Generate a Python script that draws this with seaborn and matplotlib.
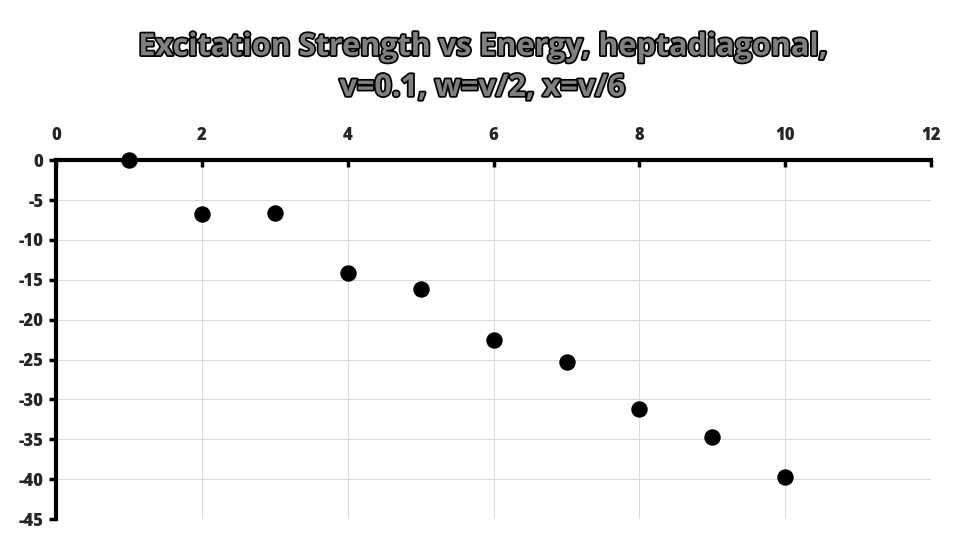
import matplotlib
matplotlib.use("Agg")
import matplotlib.pyplot as plt
import matplotlib.patheffects as pe
import seaborn as sns
import pandas as pd

# data
energy = [1, 2, 3, 4, 5, 6, 7, 8, 9, 10]
strength = [0.0, -6.7, -6.6, -14.1, -16.1, -22.5, -25.3, -31.2, -34.7, -39.7]

x_ticks = [0, 2, 4, 6, 8, 10, 12]
y_ticks = [0, -5, -10, -15, -20, -25, -30, -35, -40, -45]

df = pd.DataFrame({"Energy": energy, "Strength": strength})

sns.set_theme(style="white")
plt.rcParams["font.family"] = ["Open Sans", "DejaVu Sans"]

fig = plt.figure(figsize=(9.64, 5.43), dpi=100)
ax = fig.add_axes([0.058, 0.044, 0.908, 0.661])

sns.scatterplot(data=df, x="Energy", y="Strength", ax=ax,
                color="black", s=140, edgecolor="black", linewidth=0,
                zorder=3, clip_on=False)

ax.set_xlim(0, 12)
ax.set_ylim(-45, 0)
ax.set_xticks(x_ticks)
ax.set_yticks(y_ticks)
ax.set_xticklabels([str(t) for t in x_ticks], fontweight="heavy", fontsize=12)
ax.set_yticklabels([str(t) for t in y_ticks], fontweight="heavy", fontsize=12)

ax.xaxis.tick_top()
ax.tick_params(axis="x", direction="in", length=5, width=2.5, color="black", pad=12)
ax.tick_params(axis="y", direction="out", length=5, width=2.5, color="black", pad=4, left=True)

ax.grid(True, color="#d9d9d9", linewidth=0.7)
ax.set_axisbelow(True)

for side in ["right", "bottom"]:
    ax.spines[side].set_visible(False)
for side in ["top", "left"]:
    ax.spines[side].set_color("black")
    ax.spines[side].set_linewidth(3)

ax.set_xlabel("")
ax.set_ylabel("")

outline = [pe.withStroke(linewidth=2.5, foreground="black")]
fig.text(0.5, 0.913, "Excitation Strength vs Energy, heptadiagonal,",
         ha="center", va="center", fontsize=22, fontweight="bold", color="#808080",
         path_effects=outline)
fig.text(0.5, 0.838, "v=0.1, w=v/2, x=v/6",
         ha="center", va="center", fontsize=22, fontweight="bold", color="#808080",
         path_effects=outline)

fig.savefig("out.png", dpi=100)
